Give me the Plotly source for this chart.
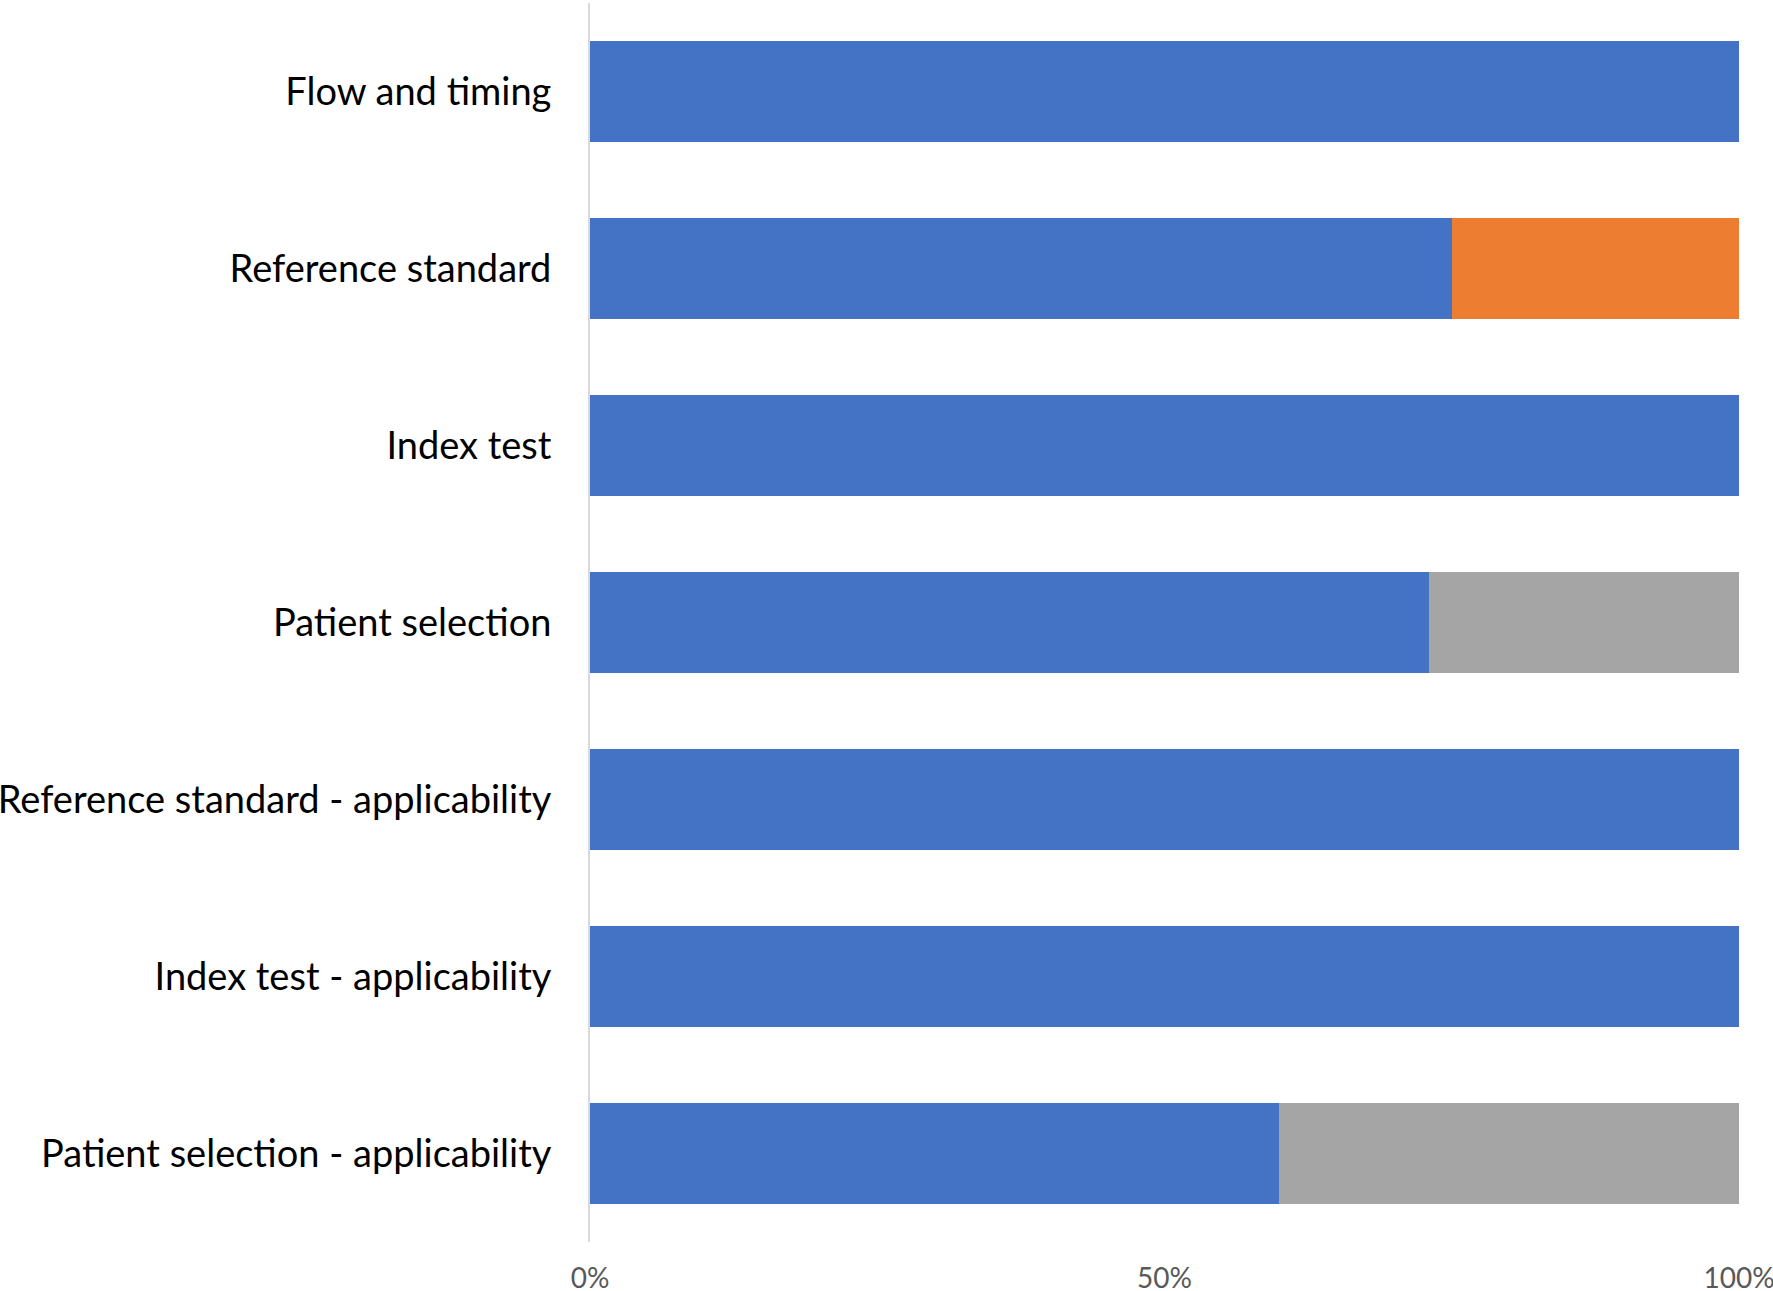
import plotly.graph_objects as go

categories = [
    "Flow and timing",
    "Reference standard",
    "Index test",
    "Patient selection",
    "Reference standard - applicability",
    "Index test - applicability",
    "Patient selection - applicability",
]
low_risk = [100, 75, 100, 73, 100, 100, 60]
high_risk = [0, 25, 0, 0, 0, 0, 0]
unclear_risk = [0, 0, 0, 27, 0, 0, 40]

tick_vals = [0, 50, 100]
tick_text = ["0%", "50%", "100%"]

fig = go.Figure()
for name, vals, col in [
    ("Low", low_risk, "#4472C4"),
    ("High", high_risk, "#ED7D31"),
    ("Unclear", unclear_risk, "#A5A5A5"),
]:
    fig.add_trace(go.Bar(
        y=categories, x=vals, name=name, orientation="h",
        marker=dict(color=col, line=dict(width=0)),
    ))

fig.update_layout(
    barmode="stack",
    bargap=0.43,
    width=1773, height=1291,
    margin=dict(l=590, r=34, t=3, b=49, autoexpand=False),
    plot_bgcolor="white", paper_bgcolor="white",
    showlegend=False,
    font=dict(family="Lato", color="black"),
)
fig.update_yaxes(
    autorange="reversed",
    automargin=False,
    showline=True, linecolor="#D9D9D9", linewidth=2,
    ticks="", showgrid=False,
    ticklabelstandoff=29,
    tickfont=dict(size=38, color="black", family="Lato"),
)
fig.update_xaxes(
    range=[0, 100],
    automargin=False,
    tickvals=tick_vals, ticktext=tick_text,
    showgrid=False, zeroline=False, showline=False, ticks="",
    ticklabelstandoff=17,
    ticklabeloverflow="allow",
    tickfont=dict(size=28, color="#595959", family="Lato"),
)

fig.write_html(
    "out.html",
    config={"displayModeBar": False},
    post_script="document.body.style.margin='0';document.body.style.overflow='hidden';",
)
